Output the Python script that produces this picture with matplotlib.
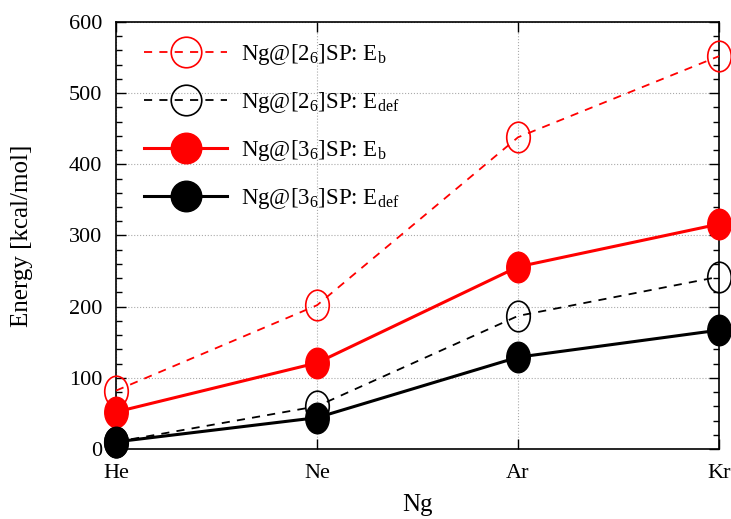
import numpy as np
import matplotlib
matplotlib.use('Agg')
import matplotlib.pyplot as plt
from matplotlib.path import Path
from matplotlib.markers import MarkerStyle
from matplotlib.transforms import Affine2D
from matplotlib.lines import Line2D
from matplotlib.ticker import MultipleLocator

plt.rcParams['font.family'] = ['Liberation Serif', 'DejaVu Serif']
plt.rcParams['mathtext.fontset'] = 'custom'
plt.rcParams['mathtext.rm'] = 'Liberation Serif'
plt.rcParams['mathtext.it'] = 'Liberation Serif:italic'

# data
gases = ['He', 'Ne', 'Ar', 'Kr']
eb_2 = [82, 202, 438, 552]
edef_2 = [10, 60, 187, 242]
eb_3 = [52, 121, 256, 316]
edef_3 = [10, 44, 129, 167]

labels = [r'Ng@[2$_6$]SP: E$_\mathrm{b}$',
          r'Ng@[2$_6$]SP: E$_\mathrm{def}$',
          r'Ng@[3$_6$]SP: E$_\mathrm{b}$',
          r'Ng@[3$_6$]SP: E$_\mathrm{def}$']

# the markers in the plot are slightly squashed ellipses
ellipse = MarkerStyle(Path.unit_circle().transformed(Affine2D().scale(0.77, 1.0)))

fig = plt.figure(figsize=(7.31, 5.19), dpi=100)
ax = fig.add_axes([0.1587, 0.1349, 0.8249, 0.8227])
x = np.arange(len(gases))

ms = 22
dash = (0, (4.5, 4.0))
ax.plot(x, eb_2, color='red', lw=1.3, ls=dash, marker=ellipse, ms=ms,
        mfc='none', mec='red', mew=1.2, clip_on=False, zorder=3)
ax.plot(x, edef_2, color='black', lw=1.3, ls=dash, marker=ellipse, ms=ms,
        mfc='none', mec='black', mew=1.2, clip_on=False, zorder=3)
ax.plot(x, eb_3, color='red', lw=2.2, ls='-', marker=ellipse, ms=ms,
        mfc='red', mec='red', clip_on=False, zorder=4)
ax.plot(x, edef_3, color='black', lw=2.2, ls='-', marker=ellipse, ms=ms,
        mfc='black', mec='black', clip_on=False, zorder=5)

handles = [
    Line2D([], [], color='red', lw=1.3, ls=dash, marker='o', ms=ms,
           mfc='none', mec='red', mew=1.2),
    Line2D([], [], color='black', lw=1.3, ls=dash, marker='o', ms=ms,
           mfc='none', mec='black', mew=1.2),
    Line2D([], [], color='red', lw=2.2, marker='o', ms=ms, mfc='red', mec='red'),
    Line2D([], [], color='black', lw=2.2, marker='o', ms=ms, mfc='black', mec='black'),
]
ax.legend(handles, labels, loc='upper left', bbox_to_anchor=(0.032, 0.975),
          frameon=False, fontsize=16.5, handlelength=3.6, handletextpad=0.6,
          labelspacing=1.0, borderaxespad=0.0)

ax.set_xlim(0, 3)
ax.set_ylim(0, 600)
ax.set_xticks(x)
ax.set_xticklabels(gases)
ax.yaxis.set_major_locator(MultipleLocator(100))
ax.yaxis.set_minor_locator(MultipleLocator(20))
ax.tick_params(which='both', direction='in', top=True, right=True,
               labelsize=16)
ax.tick_params(which='major', length=7, width=1)
ax.tick_params(which='minor', length=4, width=1)
ax.tick_params(axis='y', pad=10)
ax.tick_params(axis='x', pad=11)
ax.grid(True, which='major', color='#aaaaaa', ls=':', lw=0.8)
ax.set_axisbelow(True)
for s in ax.spines.values():
    s.set_linewidth(1.2)

ax.set_xlabel('Ng', fontsize=18, labelpad=8)
ax.set_ylabel('Energy [kcal/mol]', fontsize=18, labelpad=26)

fig.savefig('out.png', dpi=100)
